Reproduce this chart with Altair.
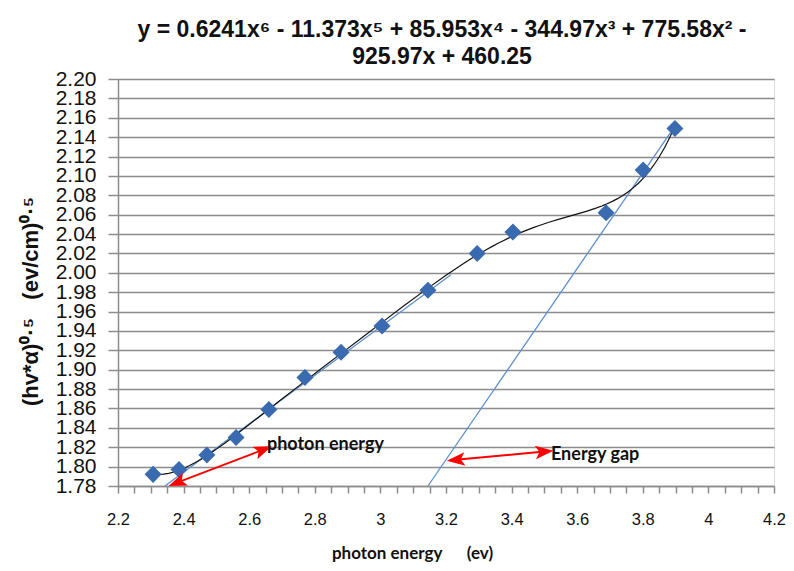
import altair as alt
import pandas as pd

# Measured data (photon energy in eV, (hv*alpha)^0.5)
PHOTON_EV = [2.307, 2.386, 2.471, 2.560, 2.660, 2.770, 2.880, 3.005, 3.145, 3.295, 3.404, 3.688, 3.801, 3.898]
HV_ALPHA = [1.792, 1.797, 1.812, 1.830, 1.859, 1.892, 1.918, 1.945, 1.982, 2.020, 2.042, 2.062, 2.106, 2.149]

# Straight tangent lines (endpoints)
TANGENT_ID = ["low", "low", "gap", "gap"]
TANGENT_X = [2.343, 3.215, 3.145, 3.889]
TANGENT_Y = [1.780, 1.998, 1.780, 2.147]

# Red double arrows (tips)
ARROW_ID = ["a1", "a1", "a2", "a2"]
ARROW_X = [2.380, 2.643, 3.230, 3.500]
ARROW_Y = [1.7835, 1.8175, 1.807, 1.8155]
ARROW_ANGLE = [158.2, 338.2, 174.8, 354.8]

# Annotations
NOTE_TEXT = ["photon energy", "Energy gap"]
NOTE_X = [2.654, 3.520]
NOTE_Y = [1.8223, 1.812]

Y_TICKS = [1.78, 1.80, 1.82, 1.84, 1.86, 1.88, 1.90, 1.92, 1.94, 1.96, 1.98,
           2.00, 2.02, 2.04, 2.06, 2.08, 2.10, 2.12, 2.14, 2.16, 2.18, 2.20]
X_TICKS = [round(2.2 + 0.05 * i, 2) for i in range(41)]

TITLE_LINES = ["y = 0.6241x\u2076 - 11.373x\u2075 + 85.953x\u2074 - 344.97x\u00b3 + 775.58x\u00b2 -",
               "925.97x + 460.25"]

pts = pd.DataFrame({"x": PHOTON_EV, "y": HV_ALPHA})
tan = pd.DataFrame({"id": TANGENT_ID, "x": TANGENT_X, "y": TANGENT_Y})
arr = pd.DataFrame({"id": ARROW_ID, "x": ARROW_X, "y": ARROW_Y, "angle": ARROW_ANGLE})
notes = pd.DataFrame({"t": NOTE_TEXT, "x": NOTE_X, "y": NOTE_Y})

xs = alt.Scale(domain=[2.2, 4.2], nice=False, zero=False)
ys = alt.Scale(domain=[1.78, 2.20], nice=False, zero=False)

xaxis = alt.Axis(
    values=X_TICKS,
    labelExpr="abs(datum.value*5 - round(datum.value*5)) < 0.01 ? format(datum.value, '~g') : ''",
    labelFontSize=16.5, labelFont="Liberation Sans", labelColor="#111",
    labelOverlap=False, labelFlush=False, labelPadding=18,
    tickSize=7, tickColor="#8c8c8c", tickWidth=1.5,
    domainColor="#8c8c8c", domainWidth=1.5, grid=False,
    title="photon energy\u00a0\u00a0\u00a0\u00a0\u00a0\u00a0(ev)",
    titleFont="Lato", titleFontSize=17, titleFontWeight="bold", titleColor="#111",
    titleX=294, titleY=67, titleAlign="center", titleBaseline="middle",
)
yaxis = alt.Axis(
    values=Y_TICKS, format=".2f",
    labelFontSize=21, labelFont="Liberation Sans", labelColor="#111",
    labelOverlap=False, labelFlush=False, labelPadding=12,
    tickSize=10, tickColor="#8c8c8c", tickWidth=1.5,
    domainColor="#8c8c8c", domainWidth=1.5,
    grid=True, gridColor="#8c8c8c", gridWidth=1.5,
    title="(hv*\u03b1)\u2070\u00b7\u2075\u00a0\u00a0\u00a0(ev/cm)\u2070\u00b7\u2075",
    titleFont="Liberation Sans", titleFontSize=22, titleFontWeight="bold", titleColor="#111",
    titleX=-88, titleY=222, titleAngle=270, titleAlign="center", titleBaseline="middle",
)

X = alt.X("x:Q", scale=xs, axis=xaxis)
Y = alt.Y("y:Q", scale=ys, axis=yaxis)

points = alt.Chart(pts).mark_point(shape="diamond", filled=True, size=290,
                                   color="#3a6ab0", opacity=1).encode(x=X, y=Y)

trend = alt.Chart(pts).transform_regression(
    "x", "y", method="poly", order=6
).mark_line(color="#111", strokeWidth=1.2).encode(x=X, y=Y)

tangents = alt.Chart(tan).mark_line(color="#5b8fd0", strokeWidth=1.3).encode(
    x=X, y=Y, detail="id:N")

shafts = alt.Chart(arr).mark_line(color="#ff0000", strokeWidth=2).encode(
    x=X, y=Y, detail="id:N")

heads = alt.Chart(arr).mark_point(
    shape="M1,0L-1,-0.75L-0.55,0L-1,0.75Z", filled=True, size=330,
    color="#ff0000", opacity=1
).encode(x=X, y=Y, angle=alt.Angle("angle:Q", scale=None))

labels = alt.Chart(notes).mark_text(
    align="left", baseline="middle", font="Lato", fontWeight="bold",
    fontSize=18, color="#111"
).encode(x=X, y=Y, text="t:N")

chart = alt.layer(tangents, trend, points, shafts, heads, labels).properties(
    width=656, height=407,
    autosize=alt.AutoSizeParams(type="none"),
    padding={"left": 110, "top": 71, "right": 12, "bottom": 77},
    title=alt.TitleParams(text=TITLE_LINES, font="Liberation Sans", fontSize=23,
                          fontWeight="bold", color="#111", anchor="middle",
                          frame="group", offset=-1, lineHeight=27, dx=-4),
).configure_view(stroke=None).configure(background="white")

chart.save("out.html", embed_options={"renderer": "svg", "actions": False})
